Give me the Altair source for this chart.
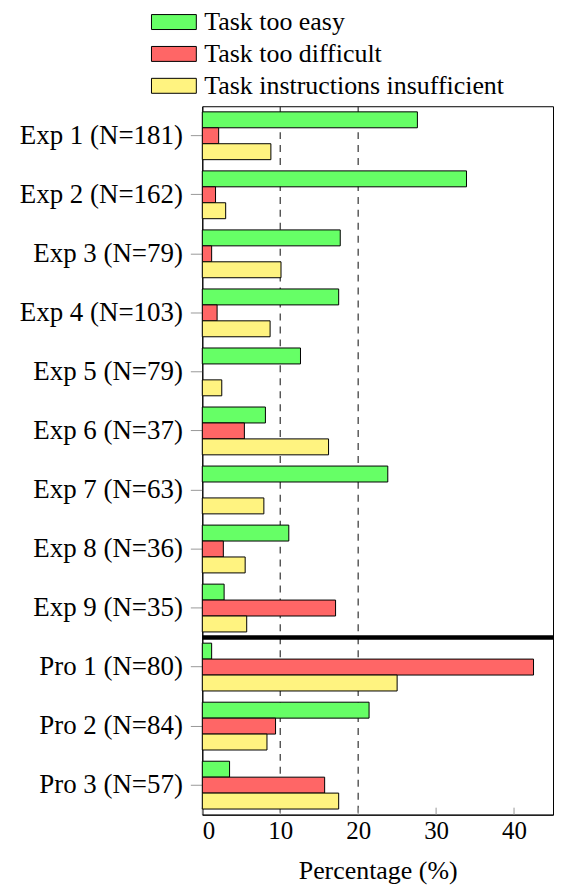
import altair as alt
import pandas as pd

categories = ["Exp 1 (N=181)", "Exp 2 (N=162)", "Exp 3 (N=79)", "Exp 4 (N=103)",
              "Exp 5 (N=79)", "Exp 6 (N=37)", "Exp 7 (N=63)", "Exp 8 (N=36)",
              "Exp 9 (N=35)", "Pro 1 (N=80)", "Pro 2 (N=84)", "Pro 3 (N=57)"]
series = ["Task too easy", "Task too difficult", "Task instructions insufficient"]
too_easy = [27.6, 33.9, 17.7, 17.5, 12.6, 8.1, 23.8, 11.1, 2.8, 1.2, 21.4, 3.5]
too_difficult = [2.1, 1.7, 1.2, 1.9, 0.0, 5.4, 0.0, 2.7, 17.1, 42.5, 9.4, 15.7]
insufficient = [8.8, 3.0, 10.1, 8.7, 2.5, 16.2, 7.9, 5.5, 5.7, 25.0, 8.3, 17.5]
colors = ["#66FF66", "#FF6666", "#FFF380"]
grid_values = [10, 20]
x_ticks = [0, 10, 20, 30, 40]
separator_before = ["Pro 1 (N=80)"]

rows = []
for s, vals in zip(series, [too_easy, too_difficult, insufficient]):
    for c, v in zip(categories, vals):
        if v > 0:
            rows.append({"category": c, "series": s, "value": v})
df = pd.DataFrame(rows)

W, H = 352, 711
FONT = "Liberation Serif"

x_scale = alt.Scale(domain=[0, 45], nice=False, zero=True)
y_scale = alt.Scale(domain=categories, paddingInner=0, paddingOuter=0)

x_axis = alt.Axis(values=x_ticks, title="Percentage (%)", grid=False, ticks=False,
                  labelFont=FONT, labelFontSize=25, labelColor="black", labelPadding=4,
                  titleFont=FONT, titleFontSize=26, titleFontWeight="normal",
                  titleColor="black", titlePadding=14, domainColor="black")

grid = alt.Chart(pd.DataFrame({"value": grid_values})).mark_rule(
    color="#333333", strokeDash=[7, 6], strokeWidth=1.2
).encode(x=alt.X("value:Q", scale=x_scale, axis=x_axis))

ticks = alt.Chart(pd.DataFrame({"value": x_ticks})).mark_rule(
    color="#999999", strokeWidth=1
).encode(x=alt.X("value:Q", scale=x_scale, axis=x_axis),
         y=alt.value(H), y2=alt.value(H - 7))

bars = alt.Chart(df).mark_bar(stroke="black", strokeWidth=1).encode(
    x=alt.X("value:Q", scale=x_scale, axis=x_axis),
    y=alt.Y("category:N", scale=y_scale, sort=categories,
            axis=alt.Axis(title=None, labelFont=FONT, labelFontSize=27, labelColor="black",
                          tickSize=12, tickColor="#999999", labelPadding=8,
                          domainColor="black", labelLimit=400)),
    yOffset=alt.YOffset("series:N", sort=series,
                        scale=alt.Scale(domain=series, paddingInner=0, paddingOuter=0.352)),
    color=alt.Color("series:N", scale=alt.Scale(domain=series, range=colors),
                    legend=alt.Legend(title=None, orient="none", legendX=-44, legendY=-100,
                                      direction="vertical", padding=0,
                                      symbolType="M-1.5,-0.5L1.5,-0.5L1.5,0.5L-1.5,0.5Z",
                                      symbolSize=900, symbolStrokeColor="black",
                                      symbolStrokeWidth=1, symbolOpacity=1,
                                      labelFont=FONT, labelFontSize=26, labelColor="black",
                                      labelOffset=15, rowPadding=3, labelLimit=500)),
)

sep = alt.Chart(pd.DataFrame({"category": separator_before})).mark_rule(
    color="black", strokeWidth=4.5
).encode(y=alt.Y("category:N", scale=y_scale, bandPosition=0),
         x=alt.value(0), x2=alt.value(W))

chart = alt.layer(grid, ticks, bars, sep).properties(
    width=W, height=H,
    padding={"left": 11, "top": -3, "right": 0, "bottom": 0}
).configure(font=FONT).configure_axis(labelFont=FONT, titleFont=FONT).configure_legend(
    labelFont=FONT, titleFont=FONT).configure_view(stroke="black", strokeWidth=1)

chart.save("out.html", embed_options={"renderer": "svg", "actions": False})
